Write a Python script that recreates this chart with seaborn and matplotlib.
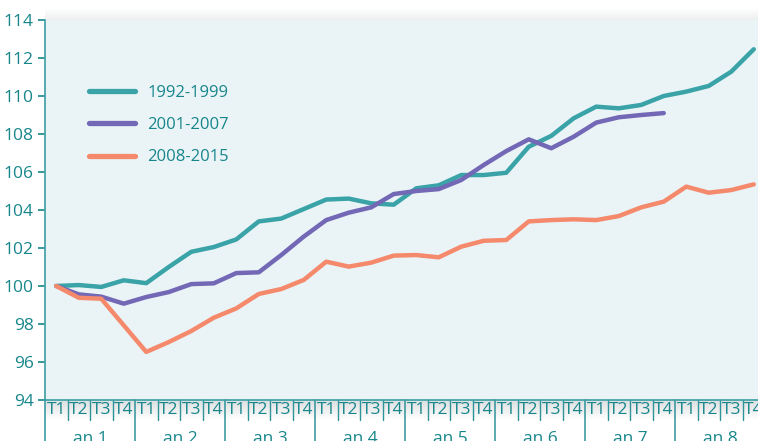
import numpy as np
import pandas as pd
import matplotlib
matplotlib.use("Agg")
import matplotlib.pyplot as plt
import seaborn as sns

# --- données (indice base 100 au T1 de l'an 1) ---
trimestres = ["T1", "T2", "T3", "T4"]
annees = ["an 1", "an 2", "an 3", "an 4", "an 5", "an 6", "an 7", "an 8"]
series = ["1992-1999", "2001-2007", "2008-2015"]

v_1992_1999 = [100.0, 100.05, 99.95, 100.3, 100.15, 101.0, 101.8, 102.05,
               102.45, 103.4, 103.55, 104.05, 104.55, 104.6, 104.35, 104.28,
               105.14, 105.3, 105.84, 105.84, 105.96, 107.33, 107.9, 108.83,
               109.44, 109.35, 109.53, 110.0, 110.23, 110.53, 111.28, 112.46]
v_2001_2007 = [100.0, 99.56, 99.44, 99.07, 99.42, 99.68, 100.1, 100.14,
               100.68, 100.72, 101.63, 102.6, 103.47, 103.86, 104.14, 104.84,
               105.0, 105.1, 105.58, 106.37, 107.1, 107.72, 107.25, 107.86,
               108.6, 108.88, 109.0, 109.1, np.nan, np.nan, np.nan, np.nan]
v_2008_2015 = [100.0, 99.38, 99.33, 97.93, 96.53, 97.05, 97.63, 98.33,
               98.82, 99.58, 99.84, 100.32, 101.28, 101.02, 101.23, 101.6,
               101.63, 101.51, 102.07, 102.38, 102.42, 103.4, 103.47, 103.51,
               103.47, 103.68, 104.14, 104.44, 105.23, 104.91, 105.05, 105.35]

couleurs = ["#3aa3a7", "#7268b5", "#f5896c"]
TXT = "#17868b"
FOND = "#eaf4f7"

n = len(v_1992_1999)
df = pd.DataFrame({
    "t": np.tile(np.arange(n), 3),
    "indice": v_1992_1999 + v_2001_2007 + v_2008_2015,
    "periode": np.repeat(series, n),
}).dropna()

sns.set_theme(style="white")
plt.rcParams["font.family"] = ["Open Sans", "DejaVu Sans"]

W, H = 758, 441
fig = plt.figure(figsize=(W / 100, H / 100), dpi=100)

# zone du graphique (le bord droit dépasse l'image, comme dans l'original)
x0, y_bas, y_haut = 45, 400, 20
ax = fig.add_axes([x0 / W, (H - y_bas) / H, 720 / W, (y_bas - y_haut) / H])
ax.set_facecolor(FOND)

# bandeau dégradé sous l'axe des x
bande = fig.add_axes([x0 / W, (H - 420) / H, 720 / W, 20 / H], zorder=-1)
grad = np.linspace(0, 1, 50).reshape(-1, 1)
bande.imshow(grad, aspect="auto", cmap=matplotlib.colors.LinearSegmentedColormap.from_list(
    "g", ["#dcdfe0", "#ffffff"]), extent=[0, 1, 0, 1])
bande.axis("off")

# ombre légère au-dessus
ombre = fig.add_axes([x0 / W, (H - y_haut) / H, 1, 12 / H], zorder=-1)
ombre.imshow(grad, aspect="auto", cmap=matplotlib.colors.LinearSegmentedColormap.from_list(
    "o", ["#ffffff", "#eef0f0"]), extent=[0, 1, 0, 1])
ombre.axis("off")

sns.lineplot(data=df, x="t", y="indice", hue="periode", hue_order=series,
             palette=couleurs, linewidth=3.2, ax=ax, legend=True)

ax.set_xlim(-0.5, n - 0.5)
ax.set_ylim(94, 114)
ax.set_yticks(range(94, 115, 2))
ax.set_xticks(range(n))
ax.set_xticklabels(trimestres * len(annees))
ax.set_xlabel("")
ax.set_ylabel("")

ax.tick_params(axis="y", colors=TXT, labelsize=12.5, length=5, width=1.2,
               left=True, pad=3)
ax.tick_params(axis="x", colors=TXT, labelsize=12.5, length=0, pad=1.5)
for lab in ax.get_xticklabels() + ax.get_yticklabels():
    lab.set_color(TXT)

for s in ["top", "right"]:
    ax.spines[s].set_visible(False)
ax.spines["left"].set_color("#3a9ea3")
ax.spines["left"].set_linewidth(1.2)
ax.spines["bottom"].set_color("#3a9ea3")
ax.spines["bottom"].set_linewidth(1.2)

# séparateurs trimestres / années
tr = ax.get_xaxis_transform()
h_tri = 20 / (y_bas - y_haut)
h_an = 41 / (y_bas - y_haut)
for k in range(1, n):
    if k % 4 == 0:
        ax.plot([k - 0.5, k - 0.5], [0, -h_an], transform=tr, color="#2f9499",
                lw=1.1, clip_on=False)
    else:
        ax.plot([k - 0.5, k - 0.5], [0, -h_tri], transform=tr, color="#2f9499",
                lw=1.0, clip_on=False)
ax.plot([-0.5, -0.5], [0, -h_an], transform=tr, color="#3a9ea3", lw=1.2,
        clip_on=False)

for i, a in enumerate(annees):
    ax.text(4 * i + 1.5, -31 / (y_bas - y_haut), a, transform=tr, ha="center",
            va="top", color=TXT, fontsize=12.5)

# légende
leg = ax.legend(loc="upper left", bbox_to_anchor=(89 / W, (H - 85) / H),
                bbox_transform=fig.transFigure, frameon=False, fontsize=12,
                handlelength=2.75, handletextpad=0.75, labelspacing=0.97,
                borderpad=0, borderaxespad=0)
for t in leg.get_texts():
    t.set_color(TXT)
for l in leg.get_lines():
    l.set_linewidth(3.8)

fig.savefig("out.png", dpi=100)
